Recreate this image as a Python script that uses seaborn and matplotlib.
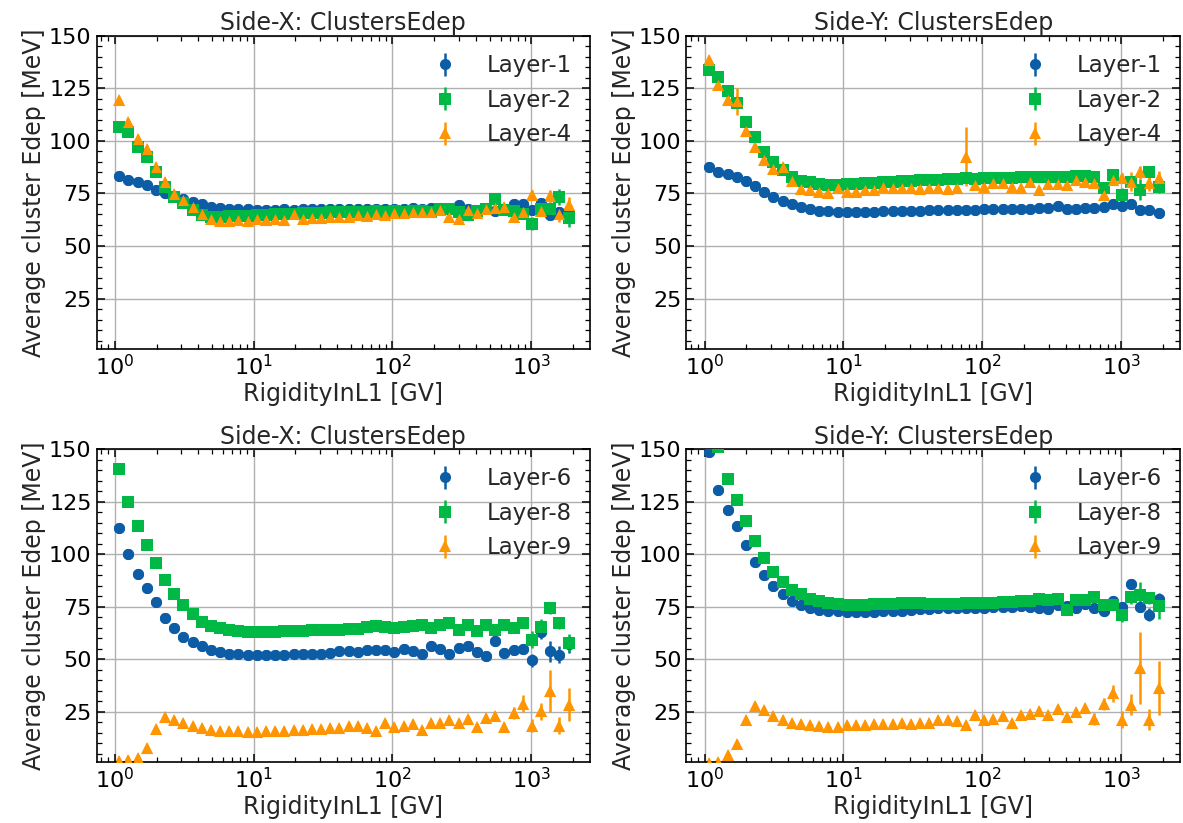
import numpy as np
import pandas as pd
import seaborn as sns
import matplotlib
matplotlib.use("Agg")
import matplotlib.pyplot as plt
from matplotlib.ticker import AutoMinorLocator, MultipleLocator

# ---------------- data ----------------
rigidity = [1.079, 1.256, 1.463, 1.702, 1.982, 2.307, 2.686, 3.127, 3.641, 4.239,
            4.934, 5.745, 6.688, 7.786, 9.065, 10.55, 12.29, 14.30, 16.65, 19.39,
            22.57, 26.28, 30.59, 35.62, 41.47, 48.28, 56.20, 65.43, 76.18, 88.69,
            103.2, 120.2, 139.9, 162.9, 189.7, 220.8, 257.1, 299.3, 348.4, 405.6,
            472.2, 549.6, 639.9, 745.0, 867.3, 1009.5, 1175.3, 1368.4, 1593.0, 1854.6]

titles = ["Side-X: ClustersEdep", "Side-Y: ClustersEdep",
          "Side-X: ClustersEdep", "Side-Y: ClustersEdep"]
labels_top = ["Layer-1", "Layer-2", "Layer-4"]
labels_bottom = ["Layer-6", "Layer-8", "Layer-9"]

# Side-X, layers 1/2/4
sx_l1 = [83.4, 81.4, 80.3, 79.1, 76.9, 75.2, 73.9, 72.5, 71.0, 69.9,
         68.6, 68.0, 67.5, 67.5, 67.4, 67.3, 67.2, 67.3, 67.4, 67.3,
         67.5, 67.5, 67.6, 67.5, 67.6, 67.7, 67.6, 67.8, 67.7, 67.8,
         67.8, 67.6, 67.9, 67.7, 68.0, 68.2, 67.5, 69.4, 67.5, 67.2,
         68.0, 66.5, 67.0, 70.0, 69.9, 67.0, 70.5, 64.6, 66.0, 65.8]
sx_l1_err = [0.2, 0.2, 0.2, 0.2, 0.2, 0.2, 0.2, 0.2, 0.2, 0.2,
             0.2, 0.2, 0.2, 0.2, 0.2, 0.2, 0.2, 0.2, 0.2, 0.2,
             0.3, 0.3, 0.3, 0.3, 0.3, 0.3, 0.3, 0.3, 0.4, 0.4,
             0.4, 0.4, 0.5, 0.5, 0.5, 0.6, 0.6, 0.7, 0.7, 0.8,
             0.8, 0.9, 1.0, 1.1, 1.3, 1.6, 1.9, 2.2, 2.6, 3.0]
sx_l2 = [106.8, 104.5, 97.3, 92.5, 85.0, 78.2, 73.4, 70.5, 67.0, 64.6,
         63.9, 64.0, 64.2, 64.3, 64.5, 64.6, 64.8, 65.0, 65.2, 65.3,
         65.5, 65.6, 65.8, 66.0, 66.0, 66.2, 66.3, 66.0, 66.5, 66.3,
         66.5, 66.4, 66.8, 66.6, 66.0, 67.8, 67.5, 66.2, 64.6, 66.8,
         67.5, 72.6, 67.0, 66.5, 65.0, 60.7, 67.8, 67.6, 73.4, 63.4]
sx_l2_err = [0.3, 0.3, 0.3, 0.3, 0.3, 0.3, 0.3, 0.3, 0.3, 0.3,
             0.3, 0.3, 0.3, 0.3, 0.3, 0.3, 0.3, 0.3, 0.3, 0.3,
             0.3, 0.3, 0.3, 0.4, 0.4, 0.4, 0.4, 0.4, 0.5, 0.5,
             0.5, 0.5, 0.6, 0.6, 0.7, 0.7, 0.8, 0.8, 0.9, 0.9,
             1.0, 1.2, 1.4, 1.6, 1.9, 3.0, 2.6, 3.2, 3.8, 4.2]
sx_l4 = [119.3, 108.9, 101.0, 96.0, 87.7, 80.6, 74.7, 71.8, 68.6, 65.1,
         63.0, 61.9, 61.9, 62.2, 61.9, 62.8, 62.6, 62.8, 62.6, 65.4,
         63.0, 63.2, 63.4, 63.6, 63.8, 64.0, 64.6, 64.3, 65.0, 64.8,
         65.5, 65.5, 66.0, 66.2, 66.0, 67.0, 64.0, 63.0, 67.0, 65.8,
         67.8, 68.3, 68.6, 63.9, 66.2, 74.5, 66.7, 73.9, 65.0, 69.4]
sx_l4_err = [0.3, 0.3, 0.3, 0.3, 0.3, 0.3, 0.3, 0.3, 0.3, 0.3,
             0.3, 0.3, 0.3, 0.3, 0.3, 0.3, 0.3, 0.3, 0.3, 0.3,
             0.3, 0.3, 0.3, 0.4, 0.4, 0.4, 0.4, 0.4, 0.5, 0.5,
             0.5, 0.5, 0.6, 0.6, 0.7, 0.7, 0.8, 0.8, 0.9, 0.9,
             0.9, 1.1, 1.3, 1.5, 1.8, 2.2, 2.6, 3.0, 3.5, 4.0]

# Side-Y, layers 1/2/4
sy_l1 = [87.4, 85.4, 84.2, 83.0, 80.9, 78.5, 75.8, 73.4, 71.5, 69.9,
         68.6, 67.7, 66.9, 66.6, 66.3, 66.2, 66.2, 66.3, 66.4, 66.5,
         66.6, 66.7, 66.8, 66.9, 67.0, 67.0, 67.1, 67.2, 67.2, 67.3,
         67.4, 67.5, 67.4, 67.6, 67.5, 67.8, 67.9, 68.0, 69.0, 67.6,
         67.8, 68.0, 68.2, 68.5, 69.9, 69.0, 69.9, 67.0, 67.0, 65.6]
sy_l1_err = [0.2, 0.2, 0.2, 0.2, 0.2, 0.2, 0.2, 0.2, 0.2, 0.2,
             0.2, 0.2, 0.2, 0.2, 0.2, 0.2, 0.2, 0.2, 0.2, 0.2,
             0.3, 0.3, 0.3, 0.3, 0.3, 0.3, 0.3, 0.3, 0.4, 0.4,
             0.4, 0.4, 0.5, 0.5, 0.5, 0.6, 0.6, 0.7, 0.7, 0.8,
             0.8, 0.9, 1.0, 1.1, 1.2, 1.4, 1.6, 1.8, 2.0, 2.2]
sy_l2 = [133.9, 130.4, 123.9, 118.3, 108.9, 102.1, 94.9, 90.1, 86.1, 83.0,
         81.0, 80.3, 79.3, 79.0, 79.0, 79.5, 79.5, 79.8, 80.0, 80.6,
         80.5, 80.8, 81.0, 81.2, 81.5, 81.6, 81.8, 82.0, 82.2, 82.0,
         82.3, 82.5, 82.4, 82.6, 82.8, 82.7, 82.9, 83.0, 83.0, 82.8,
         83.2, 83.5, 83.0, 77.4, 83.8, 74.2, 80.6, 76.9, 85.0, 78.3]
sy_l2_err = [0.3, 0.3, 0.3, 0.3, 0.3, 0.3, 0.3, 0.3, 0.3, 0.3,
             0.3, 0.3, 0.3, 0.3, 0.3, 0.3, 0.3, 0.3, 0.3, 0.3,
             0.3, 0.3, 0.3, 0.4, 0.4, 0.4, 0.4, 0.4, 0.5, 0.5,
             0.5, 0.5, 0.6, 0.6, 0.7, 0.7, 0.8, 0.8, 0.9, 0.9,
             1.0, 1.2, 1.4, 2.8, 2.0, 3.2, 2.6, 5.0, 3.2, 3.2]
sy_l4 = [138.4, 126.8, 119.3, 118.8, 104.9, 97.3, 90.9, 86.5, 87.4, 81.0,
         77.1, 76.9, 75.5, 75.0, 77.4, 75.5, 75.5, 76.9, 76.5, 78.2,
         77.4, 77.4, 77.4, 77.1, 77.4, 77.4, 77.2, 77.4, 92.5, 79.0,
         78.2, 79.8, 80.0, 78.2, 77.4, 80.6, 76.6, 79.5, 79.5, 79.0,
         81.4, 80.6, 80.2, 74.2, 81.4, 82.2, 80.6, 85.0, 79.8, 82.2]
sy_l4_err = [0.4, 0.4, 0.4, 6.5, 0.4, 0.4, 0.4, 0.4, 0.4, 0.4,
             0.4, 0.4, 0.4, 0.4, 0.4, 0.4, 0.4, 0.4, 0.4, 0.4,
             0.4, 0.4, 0.4, 0.5, 0.5, 0.5, 0.5, 0.5, 14.0, 0.6,
             0.6, 0.6, 0.7, 0.7, 0.8, 0.8, 0.9, 0.9, 1.0, 1.0,
             1.1, 1.3, 1.5, 3.0, 2.0, 2.4, 4.5, 3.0, 3.5, 3.5]

# Side-X, layers 6/8/9
sx_l6 = [112.4, 100.0, 90.5, 83.8, 77.0, 69.8, 64.8, 60.5, 58.1, 56.0,
         54.4, 53.3, 52.5, 52.2, 52.0, 51.9, 52.0, 52.1, 52.1, 52.2,
         52.3, 52.2, 52.6, 52.9, 53.7, 53.7, 53.2, 54.4, 54.1, 54.1,
         53.2, 54.8, 53.7, 52.4, 56.0, 54.8, 52.4, 55.2, 56.0, 53.2,
         51.3, 58.7, 52.9, 54.1, 54.8, 49.4, 63.0, 53.7, 52.0, 57.0]
sx_l6_err = [0.5, 0.4, 0.3, 0.3, 0.3, 0.3, 0.3, 0.3, 0.3, 0.3,
             0.3, 0.3, 0.3, 0.3, 0.3, 0.3, 0.3, 0.3, 0.3, 0.3,
             0.3, 0.3, 0.3, 0.4, 0.4, 0.4, 0.4, 0.4, 0.5, 0.5,
             0.5, 0.5, 0.6, 0.6, 0.7, 0.7, 0.8, 0.8, 0.9, 0.9,
             1.0, 1.2, 1.4, 1.6, 1.9, 3.0, 3.5, 5.0, 4.0, 4.0]
sx_l8 = [140.5, 125.0, 113.2, 104.1, 95.7, 87.5, 81.1, 75.6, 71.4, 67.6,
         65.9, 64.8, 63.7, 63.2, 62.9, 62.9, 62.7, 62.9, 63.2, 63.4,
         63.5, 63.7, 64.0, 64.0, 64.0, 64.3, 64.5, 65.1, 65.6, 65.1,
         64.8, 65.1, 65.6, 66.3, 64.8, 66.3, 67.1, 63.7, 66.3, 63.2,
         66.3, 64.0, 66.3, 64.8, 67.1, 59.2, 65.1, 74.3, 67.1, 57.9]
sx_l8_err = [2.0, 0.5, 0.4, 0.3, 0.3, 0.3, 0.3, 0.3, 0.3, 0.3,
             0.3, 0.3, 0.3, 0.3, 0.3, 0.3, 0.3, 0.3, 0.3, 0.3,
             0.3, 0.3, 0.3, 0.4, 0.4, 0.4, 0.4, 0.4, 0.5, 0.5,
             0.5, 0.5, 0.6, 0.6, 0.7, 0.7, 0.8, 0.8, 0.9, 0.9,
             1.0, 1.2, 1.4, 1.6, 1.9, 4.0, 4.0, 3.0, 3.0, 4.0]
sx_l9 = [1.3, 2.0, 2.9, 7.6, 16.7, 22.4, 21.1, 19.5, 18.3, 17.1,
         16.3, 16.0, 15.9, 15.6, 15.4, 15.2, 15.9, 16.0, 16.0, 16.3,
         16.3, 16.7, 16.8, 17.1, 17.1, 18.3, 18.3, 17.1, 15.6, 19.5,
         17.6, 18.3, 19.2, 16.3, 19.8, 19.8, 20.8, 19.8, 21.4, 17.9,
         21.9, 23.0, 17.9, 24.3, 28.7, 18.3, 25.1, 34.6, 18.3, 28.3]
sx_l9_err = [0.3, 0.3, 0.3, 0.3, 0.3, 0.3, 0.3, 0.3, 0.3, 0.3,
             0.3, 0.3, 0.3, 0.3, 0.3, 0.3, 0.3, 0.3, 0.3, 0.3,
             0.3, 0.3, 0.3, 0.4, 0.4, 0.4, 0.4, 0.4, 0.5, 0.5,
             0.5, 0.5, 0.6, 0.6, 0.7, 0.7, 0.8, 0.8, 0.9, 1.0,
             1.1, 1.3, 1.6, 3.0, 4.0, 3.0, 4.0, 10.0, 4.0, 8.0]

# Side-Y, layers 6/8/9
sy_l6 = [148.6, 130.6, 120.8, 113.2, 104.1, 96.0, 90.2, 84.9, 81.1, 77.8,
         75.6, 74.3, 73.5, 72.9, 72.7, 72.2, 72.2, 72.2, 72.4, 72.7,
         72.9, 72.9, 73.5, 73.8, 74.0, 74.2, 74.3, 74.3, 74.4, 74.5,
         74.5, 74.6, 75.0, 75.0, 75.2, 75.0, 74.3, 73.8, 75.9, 75.4,
         74.3, 76.0, 74.3, 72.7, 77.8, 75.0, 85.9, 75.0, 71.1, 78.7]
sy_l6_err = [0.6, 0.4, 0.3, 0.3, 0.3, 0.3, 0.3, 0.3, 0.3, 0.3,
             0.3, 0.3, 0.3, 0.3, 0.3, 0.3, 0.3, 0.3, 0.3, 0.3,
             0.3, 0.3, 0.3, 0.4, 0.4, 0.4, 0.4, 0.4, 0.5, 0.5,
             0.5, 0.5, 0.6, 0.6, 0.7, 0.7, 0.8, 0.8, 0.9, 0.9,
             1.0, 1.2, 1.4, 1.6, 1.9, 2.2, 2.2, 2.6, 3.0, 2.6]
sy_l8 = [158.0, 151.0, 135.7, 125.9, 115.9, 106.3, 98.1, 91.7, 86.7, 82.7,
         81.1, 78.6, 77.5, 76.7, 76.2, 75.9, 75.9, 75.9, 76.0, 76.2,
         76.2, 76.7, 76.7, 76.7, 76.0, 76.0, 76.2, 76.2, 76.5, 76.5,
         76.7, 76.7, 77.0, 77.2, 77.5, 77.5, 78.6, 78.0, 78.6, 73.2,
         78.3, 78.0, 79.8, 75.9, 75.9, 70.8, 79.4, 80.5, 79.0, 75.1]
sy_l8_err = [0.6, 0.5, 0.4, 0.3, 0.3, 0.3, 0.3, 0.3, 0.3, 0.3,
             0.3, 0.3, 0.3, 0.3, 0.3, 0.3, 0.3, 0.3, 0.3, 0.3,
             0.3, 0.3, 0.3, 0.4, 0.4, 0.4, 0.4, 0.4, 0.5, 0.5,
             0.5, 0.5, 0.6, 0.6, 0.7, 0.7, 0.8, 0.8, 0.9, 0.9,
             1.0, 1.2, 1.4, 1.6, 1.9, 3.0, 3.0, 6.0, 3.0, 6.0]
sy_l9 = [0.5, 0.8, 4.4, 9.7, 21.1, 27.5, 25.9, 23.0, 21.1, 19.5,
         19.0, 18.7, 18.3, 17.9, 17.9, 18.4, 18.7, 18.7, 19.0, 19.2,
         19.2, 19.5, 19.2, 19.5, 19.8, 20.8, 21.1, 20.3, 18.7, 23.5,
         20.8, 21.4, 23.0, 19.8, 23.5, 24.0, 25.1, 23.5, 26.2, 22.4,
         24.6, 26.7, 21.4, 28.7, 33.8, 21.1, 28.3, 45.7, 21.1, 36.2]
sy_l9_err = [0.3, 0.3, 0.3, 0.3, 0.3, 0.3, 0.3, 0.3, 0.3, 0.3,
             0.3, 0.3, 0.3, 0.3, 0.3, 0.3, 0.3, 0.3, 0.3, 0.3,
             0.3, 0.3, 0.3, 0.4, 0.4, 0.4, 0.4, 0.4, 0.5, 0.5,
             0.5, 0.5, 0.6, 0.6, 0.7, 0.7, 0.8, 0.8, 0.9, 1.0,
             1.1, 1.3, 3.0, 3.0, 4.0, 4.0, 5.0, 17.0, 5.0, 13.0]

panels = [
    (titles[0], labels_top, [(sx_l1, sx_l1_err), (sx_l2, sx_l2_err), (sx_l4, sx_l4_err)]),
    (titles[1], labels_top, [(sy_l1, sy_l1_err), (sy_l2, sy_l2_err), (sy_l4, sy_l4_err)]),
    (titles[2], labels_bottom, [(sx_l6, sx_l6_err), (sx_l8, sx_l8_err), (sx_l9, sx_l9_err)]),
    (titles[3], labels_bottom, [(sy_l6, sy_l6_err), (sy_l8, sy_l8_err), (sy_l9, sy_l9_err)]),
]

# ---------------- style ----------------
sns.set_theme(style="ticks")
plt.rcParams["font.family"] = ["DejaVu Sans"]
plt.rcParams["mathtext.fontset"] = "dejavusans"
colors = ["#0C5DA5", "#00B945", "#FF9500"]
markers = ["o", "s", "^"]
msize = 8.0

fig, axes = plt.subplots(2, 2, figsize=(11.83, 8.23), dpi=100)
fig.subplots_adjust(left=0.0816, right=0.9975, bottom=0.0741, top=0.9563,
                    wspace=0.195, hspace=0.32)

for ax, (title, labs, series) in zip(axes.flat, panels):
    for (vals, errs), lab, c, m in zip(series, labs, colors, markers):
        df = pd.DataFrame({"R": rigidity, "E": vals, "err": errs})
        ax.errorbar(df["R"], df["E"], yerr=df["err"], fmt=m, color=c,
                    ms=msize, mew=0, elinewidth=1.8, capsize=0,
                    label=lab, zorder=2)
        sns.scatterplot(data=df, x="R", y="E", marker=m, color=c,
                        s=msize ** 2, linewidth=0, ax=ax, legend=False,
                        zorder=3)
    ax.set_xscale("log")
    ax.set_xlim(0.74, 2650)
    ax.set_ylim(1, 150)
    ax.yaxis.set_major_locator(MultipleLocator(25))
    ax.yaxis.set_minor_locator(AutoMinorLocator(5))
    ax.grid(True, which="major", color="#b0b0b0", lw=1.0)
    ax.set_axisbelow(True)
    for s in ax.spines.values():
        s.set_linewidth(1.2)
        s.set_color("black")
    ax.tick_params(which="both", direction="in", top=True, right=True,
                   labelsize=16, colors="black")
    ax.tick_params(which="major", length=6, width=1.1)
    ax.tick_params(which="minor", length=3.5, width=0.9)
    ax.set_title(title, fontsize=17, pad=4)
    ax.set_xlabel("RigidityInL1 [GV]", fontsize=17, labelpad=2)
    ax.set_ylabel("Average cluster Edep [MeV]", fontsize=17, labelpad=2)
    ax.legend(loc="upper right", frameon=False, fontsize=16.5,
              handletextpad=0.8, borderaxespad=0.4)

fig.savefig("out.png", dpi=100)
